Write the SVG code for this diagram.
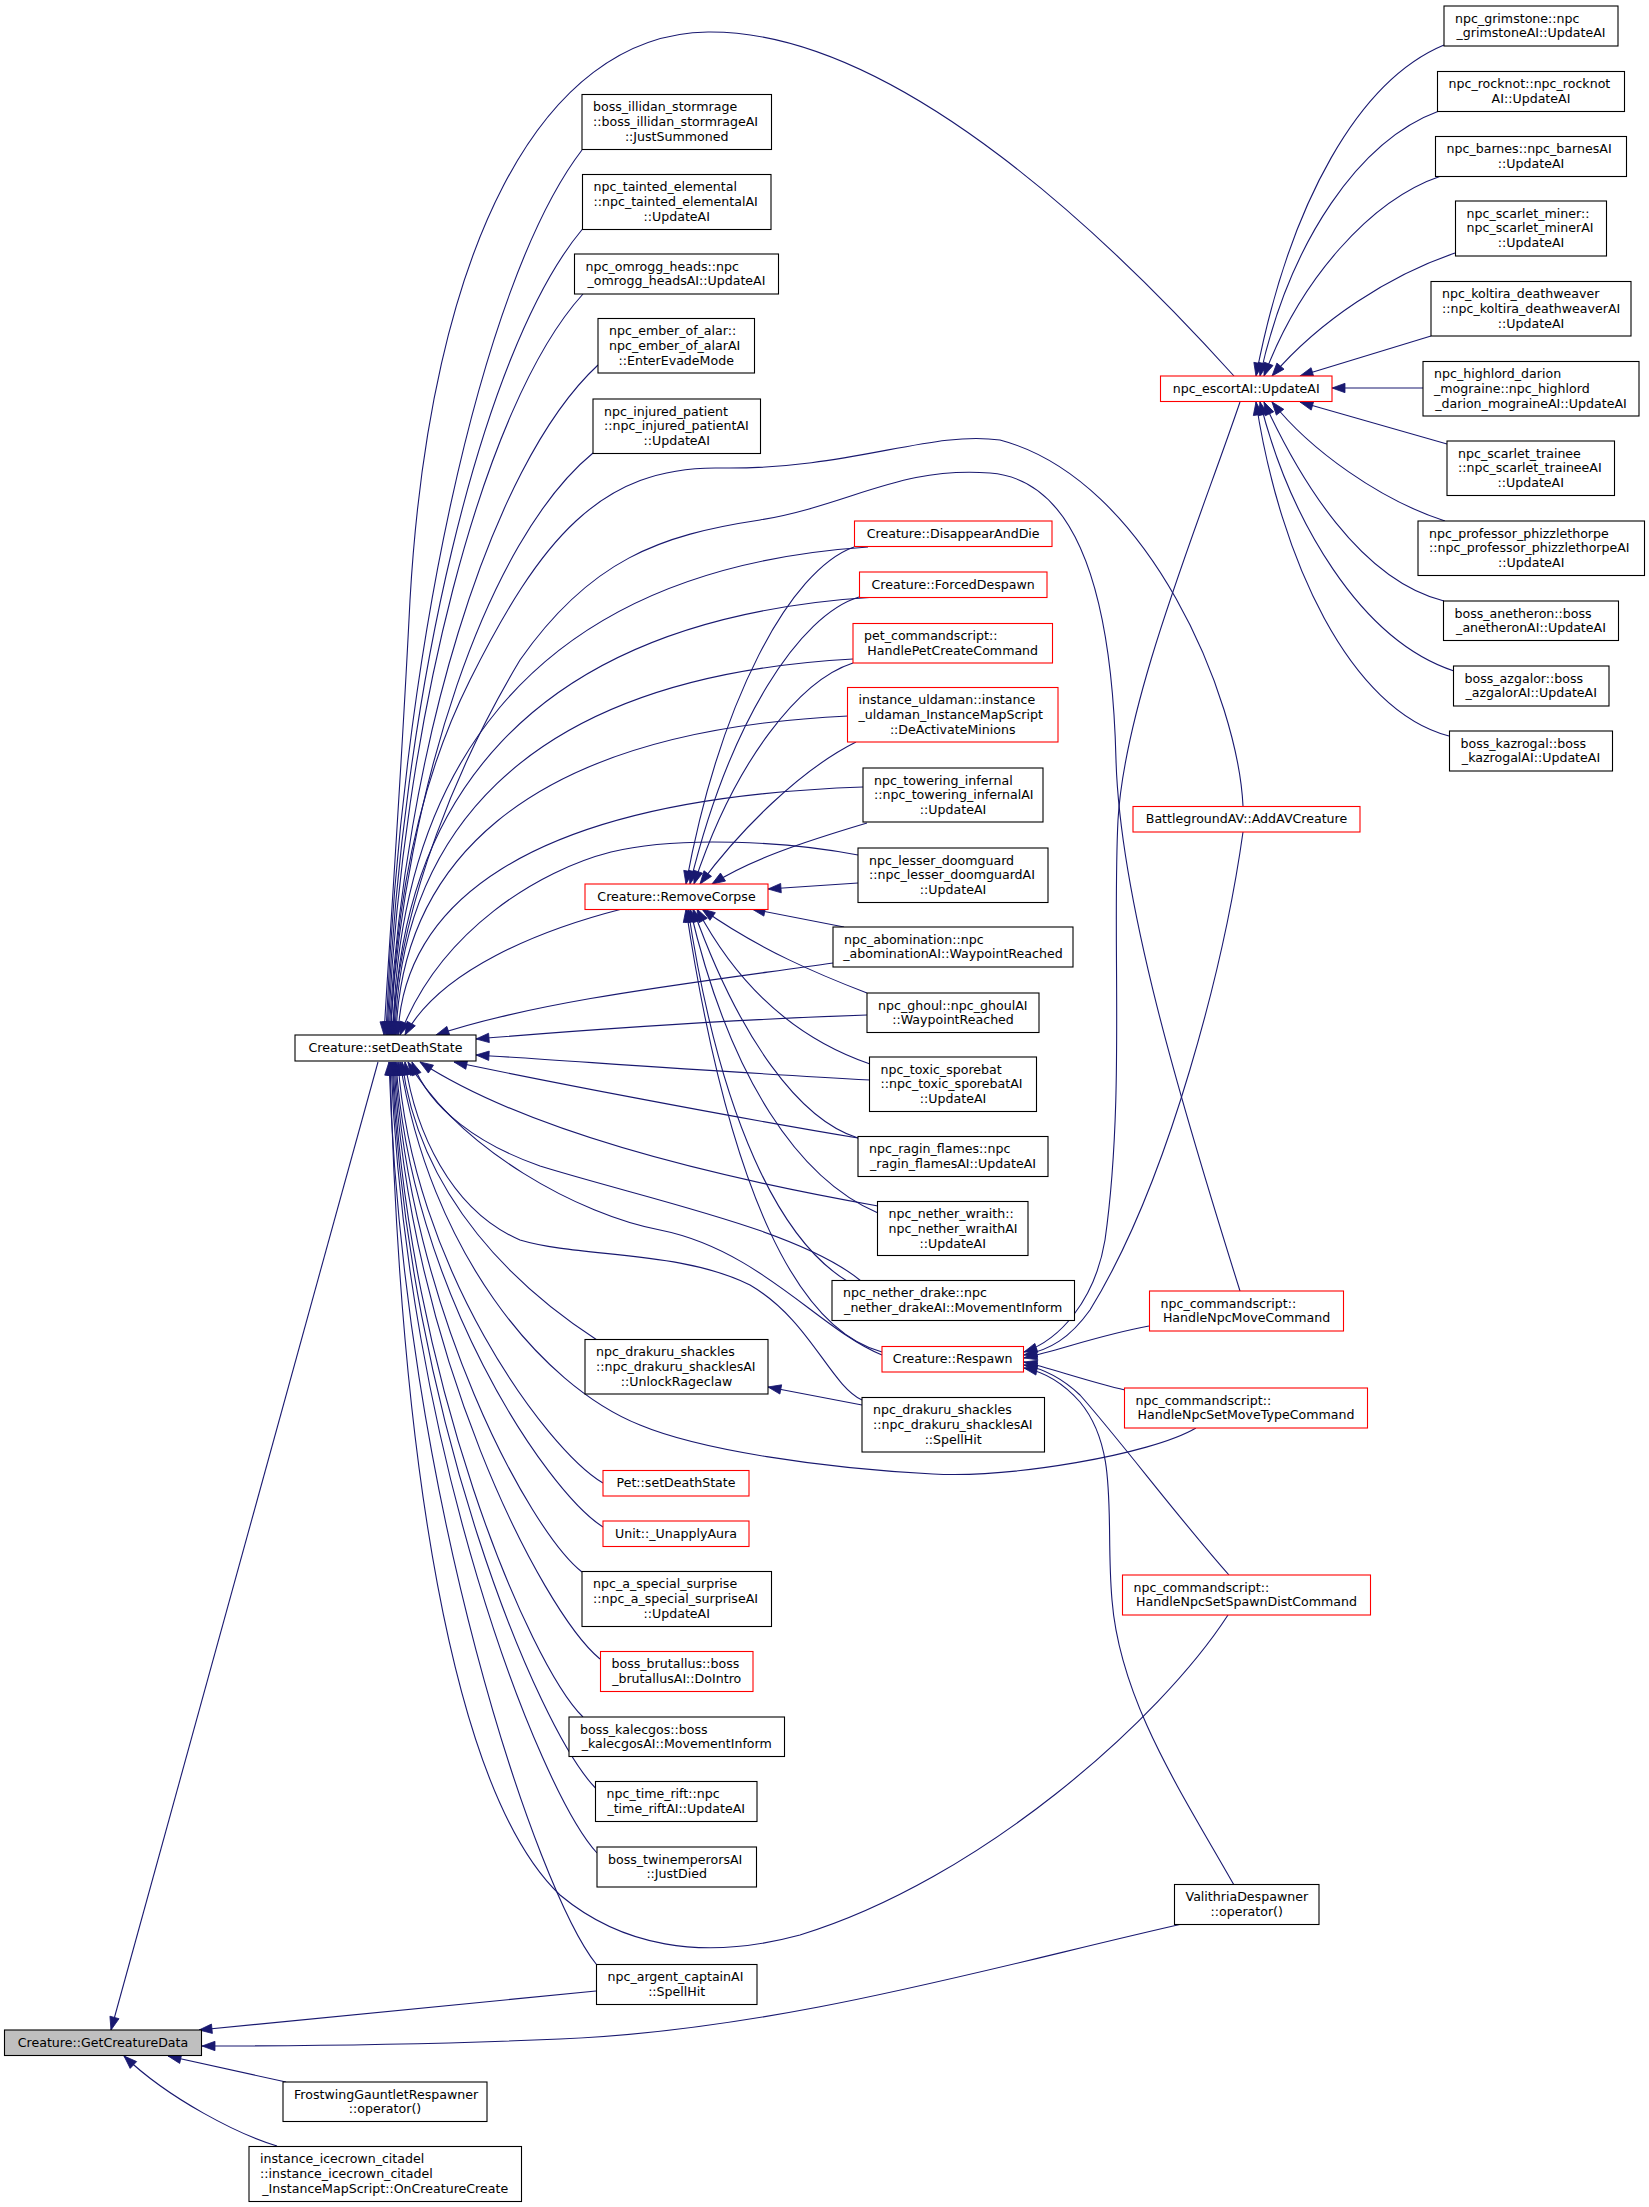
<svg xmlns="http://www.w3.org/2000/svg" width="1649" height="2207" viewBox="0 0 1649 2207">
<style>
.n{fill:#fff;stroke:#000;stroke-width:1.1}
.r{fill:#fff;stroke:#f00;stroke-width:1.1}
.g{fill:#bfbfbf;stroke:#000;stroke-width:1.1}
text{font-family:"DejaVu Sans",sans-serif;font-size:12.6px;fill:#000}
.c{text-anchor:middle}
.e{fill:none;stroke:#191970;stroke-width:1.1;marker-end:url(#a)}
</style>
<defs>
<marker id="a" viewBox="0 0 13 10" refX="13" refY="5" markerWidth="13" markerHeight="10" markerUnits="userSpaceOnUse" orient="auto" overflow="visible"><path d="M0,0.3 L13,5 L0,9.7 z" fill="#191970" stroke="#191970" stroke-width="0.8"/></marker>
</defs>
<rect width="1649" height="2207" fill="#fff"/>
<g id="edges">
<!-- to GetCreatureData -->
<path class="e" d="M378,1062 L111,2030"/>
<path class="e" d="M596,1991 L199,2030"/>
<path class="e" d="M1182,1924 C1000,1965 780,2030 560,2039 C420,2045 300,2046 202,2046"/>
<path class="e" d="M286,2082 L168,2056"/>
<path class="e" d="M277,2146 C240,2135 170,2100 124,2056"/>
<!-- to setDeathState (top) -->
<path class="e" d="M1234,376 C1120,250 900,30 708,32 C540,34 430,250 410,600 C400,800 388,960 384,1035"/>
<path class="e" d="M582,150 C480,283 400,663 386,1035"/>
<path class="e" d="M582.5,229 C481,350 401,696 387,1035"/>
<path class="e" d="M583,294 C482,405 402,724 388,1035"/>
<path class="e" d="M598,365 C489,466 404,754 389,1035"/>
<path class="e" d="M593,453 C487,540 404,791 390,1035"/>
<path class="e" d="M1243,806 C1238,700 1150,480 1000,440 C930,430 850,470 720,468 C600,466 540,540 470,680 C420,780 395,900 391,1035"/>
<path class="e" d="M1240,1291 C1180,1100 1120,900 1116,760 C1112,600 1080,480 990,473 C900,466 850,505 760,520 C660,535 590,560 520,660 C460,760 400,900 392,1035"/>
<path class="e" d="M868,547 C512,571 398,791 393,1035"/>
<path class="e" d="M876,597 C514,619 399,816 394,1035"/>
<path class="e" d="M853,659 C509,678 400,847 395,1035"/>
<path class="e" d="M848,716 C509,732 401,875 396,1035"/>
<path class="e" d="M863,787 C514,799 403,911 398,1035"/>
<path class="e" d="M858,855 C790,842 680,835 611,852 C540,870 440,930 400,1035"/>
<path class="e" d="M622,909 C540,930 440,970 405,1035"/>
<path class="e" d="M833,963 C700,982 540,1000 436,1035"/>
<!-- right side -->
<path class="e" d="M867,1015 C720,1020 560,1032 476,1039"/>
<path class="e" d="M870,1080 C720,1072 560,1060 476,1055"/>
<!-- bottom -->
<path class="e" d="M858,1138 C720,1115 540,1080 454,1062"/>
<path class="e" d="M878,1206 C760,1185 540,1140 420,1062"/>
<path class="e" d="M861,1281 C800,1230 650,1200 540,1166 C480,1145 430,1110 412,1062"/>
<path class="e" d="M882,1355 C820,1330 760,1250 660,1230 C580,1215 460,1150 408,1062"/>
<path class="e" d="M862,1400 C830,1385 810,1320 750,1285 C680,1250 580,1258 520,1240 C450,1210 415,1130 405,1062"/>
<path class="e" d="M597,1340 C520,1290 420,1200 402,1062"/>
<path class="e" d="M1196,1428 C1150,1455 1010,1478 933,1474 C820,1468 700,1450 640,1425 C540,1385 430,1250 400,1062"/>
<path class="e" d="M603,1483 C545.6,1449 412,1266 398,1062"/>
<path class="e" d="M603,1527 C545,1490 410,1287 396,1062"/>
<path class="e" d="M582,1572 C529.6,1531 409,1309 395,1062"/>
<path class="e" d="M600,1659 C542,1611 408,1351 394,1062"/>
<path class="e" d="M583,1717 C530,1665 407,1380 393,1062"/>
<path class="e" d="M595.5,1788 C538.5,1730 406,1414 392,1062"/>
<path class="e" d="M597,1853 C539,1790 405,1446 391,1062"/>
<path class="e" d="M1228,1615 C1160,1720 980,1880 800,1935 C700,1962 620,1945 560,1895 C450,1790 400,1450 390,1062"/>
<path class="e" d="M596.5,1964.5 C538,1892 403,1500 389,1062"/>
<!-- to RemoveCorpse -->
<path class="e" d="M854,547 C790,570 720,700 686,884"/>
<path class="e" d="M859,597 C800,615 730,720 690,884"/>
<path class="e" d="M853,663 C800,680 735,760 694,884"/>
<path class="e" d="M856,742 C800,770 740,830 700,884"/>
<path class="e" d="M867,823 C800,843 750,860 712,884"/>
<path class="e" d="M858,883 L768,889"/>
<path class="e" d="M844,927 L752,909"/>
<path class="e" d="M867,993 C820,975 760,950 702,909"/>
<path class="e" d="M870,1064 C800,1040 740,990 697,909"/>
<path class="e" d="M858,1138 C800,1120 740,1040 693,909"/>
<path class="e" d="M878,1213 C800,1180 730,1080 690,909"/>
<path class="e" d="M847,1281 C780,1240 720,1120 688,909"/>
<path class="e" d="M882,1352 C800,1330 730,1200 686,909"/>
<!-- to Respawn -->
<path class="e" d="M1240,402 C1200,520 1125,700 1118,820 C1112,940 1125,1100 1105,1240 C1095,1300 1060,1340 1024,1352"/>
<path class="e" d="M1243,832 C1225,960 1170,1180 1090,1310 C1070,1338 1050,1350 1024,1355"/>
<path class="e" d="M1149,1326 C1100,1335 1060,1350 1024,1358"/>
<path class="e" d="M1125,1390 C1090,1382 1050,1368 1024,1362"/>
<path class="e" d="M1229,1575 C1180,1520 1120,1440 1080,1395 C1062,1378 1045,1369 1024,1365"/>
<path class="e" d="M1234,1885 C1180,1790 1120,1700 1112,1600 C1105,1520 1120,1450 1080,1402 C1065,1385 1045,1372 1024,1368"/>
<!-- drakuru -->
<path class="e" d="M862,1405 L768,1387"/>
<!-- to npc_escortAI::UpdateAI -->
<path class="e" d="M1444,45 C1360,80 1290,200 1256,376"/>
<path class="e" d="M1439,111 C1360,140 1290,240 1260,376"/>
<path class="e" d="M1441,176 C1370,200 1300,280 1264,376"/>
<path class="e" d="M1455,253 C1390,275 1320,320 1272,376"/>
<path class="e" d="M1431,336 L1300,376"/>
<path class="e" d="M1423,388 L1332,388"/>
<path class="e" d="M1447,444 L1300,402"/>
<path class="e" d="M1445,521 C1380,500 1310,450 1272,402"/>
<path class="e" d="M1444,601 C1360,580 1300,480 1264,402"/>
<path class="e" d="M1454,671 C1360,640 1290,520 1260,402"/>
<path class="e" d="M1449,736 C1350,710 1280,560 1256,402"/>
</g>
<g id="n_getcreaturedata"><rect class="g" x="4.5" y="2030" width="197" height="25.5"/><text class="c" x="103" y="2046.5">Creature::GetCreatureData</text></g>
<g id="n_setdeathstate"><rect class="n" x="295" y="1035" width="181" height="26"/><text class="c" x="385.5" y="1051.5">Creature::setDeathState</text></g>
<g id="n_frostwing"><rect class="n" x="283" y="2082" width="204" height="39.5"/><text><tspan x="294" y="2098.5">FrostwingGauntletRespawner</tspan><tspan class="c" x="385" y="2113.3">::operator()</tspan></text></g>
<g id="n_icecrown"><rect class="n" x="249" y="2146.5" width="272.5" height="55"/><text><tspan x="260" y="2163">instance_icecrown_citadel</tspan><tspan x="260" y="2177.8">::instance_icecrown_citadel</tspan><tspan class="c" x="385.2" y="2192.6">_InstanceMapScript::OnCreatureCreate</tspan></text></g>
<g id="n_argent"><rect class="n" x="596.5" y="1964.5" width="160.5" height="40"/><text><tspan x="607.5" y="1981">npc_argent_captainAI</tspan><tspan class="c" x="676.7" y="1995.8">::SpellHit</tspan></text></g>
<g id="n_valithria"><rect class="n" x="1174.5" y="1884.5" width="144.5" height="40"/><text><tspan x="1185.5" y="1901">ValithriaDespawner</tspan><tspan class="c" x="1246.7" y="1915.8">::operator()</tspan></text></g>
<g id="n_illidan"><rect class="n" x="582" y="94.5" width="189.5" height="55"/><text><tspan x="593" y="111">boss_illidan_stormrage</tspan><tspan x="593" y="125.8">::boss_illidan_stormrageAI</tspan><tspan class="c" x="676.7" y="140.6">::JustSummoned</tspan></text></g>
<g id="n_tainted"><rect class="n" x="582.5" y="174.5" width="188.5" height="55"/><text><tspan x="593.5" y="191">npc_tainted_elemental</tspan><tspan x="593.5" y="205.8">::npc_tainted_elementalAI</tspan><tspan class="c" x="676.7" y="220.6">::UpdateAI</tspan></text></g>
<g id="n_omrogg"><rect class="n" x="574.5" y="254" width="204" height="40"/><text><tspan x="585.5" y="270.5">npc_omrogg_heads::npc</tspan><tspan class="c" x="676.5" y="285.3">_omrogg_headsAI::UpdateAI</tspan></text></g>
<g id="n_ember"><rect class="n" x="598" y="318.5" width="156.5" height="54.5"/><text><tspan x="609" y="335">npc_ember_of_alar::</tspan><tspan x="609" y="349.8">npc_ember_of_alarAI</tspan><tspan class="c" x="676.2" y="364.6">::EnterEvadeMode</tspan></text></g>
<g id="n_injured"><rect class="n" x="593" y="399" width="167.5" height="54.5"/><text><tspan x="604" y="415.5">npc_injured_patient</tspan><tspan x="604" y="430.3">::npc_injured_patientAI</tspan><tspan class="c" x="676.7" y="445.1">::UpdateAI</tspan></text></g>
<g id="n_disappear"><rect class="r" x="854.5" y="521" width="197.5" height="25.5"/><text class="c" x="953.2" y="537.5">Creature::DisappearAndDie</text></g>
<g id="n_forceddespawn"><rect class="r" x="859.5" y="572" width="187.5" height="25.5"/><text class="c" x="953.2" y="588.5">Creature::ForcedDespawn</text></g>
<g id="n_petcmd"><rect class="r" x="853" y="623.5" width="199.5" height="39.5"/><text><tspan x="864" y="640">pet_commandscript::</tspan><tspan class="c" x="952.7" y="654.8">HandlePetCreateCommand</tspan></text></g>
<g id="n_uldaman"><rect class="r" x="847.5" y="687.5" width="210.5" height="54.5"/><text><tspan x="858.5" y="704">instance_uldaman::instance</tspan><tspan x="858.5" y="718.8">_uldaman_InstanceMapScript</tspan><tspan class="c" x="952.7" y="733.6">::DeActivateMinions</tspan></text></g>
<g id="n_towering"><rect class="n" x="863" y="768" width="180" height="54"/><text><tspan x="874" y="784.5">npc_towering_infernal</tspan><tspan x="874" y="799.3">::npc_towering_infernalAI</tspan><tspan class="c" x="953" y="814.1">::UpdateAI</tspan></text></g>
<g id="n_removecorpse"><rect class="r" x="585" y="884" width="183" height="25.5"/><text class="c" x="676.5" y="900.5">Creature::RemoveCorpse</text></g>
<g id="n_doomguard"><rect class="n" x="858" y="848" width="190" height="54.5"/><text><tspan x="869" y="864.5">npc_lesser_doomguard</tspan><tspan x="869" y="879.3">::npc_lesser_doomguardAI</tspan><tspan class="c" x="953" y="894.1">::UpdateAI</tspan></text></g>
<g id="n_abomination"><rect class="n" x="833" y="927" width="240" height="40"/><text><tspan x="844" y="943.5">npc_abomination::npc</tspan><tspan class="c" x="953" y="958.3">_abominationAI::WaypointReached</tspan></text></g>
<g id="n_ghoul"><rect class="n" x="867" y="993" width="172" height="39.5"/><text><tspan x="878" y="1009.5">npc_ghoul::npc_ghoulAI</tspan><tspan class="c" x="953" y="1024.3">::WaypointReached</tspan></text></g>
<g id="n_toxic"><rect class="n" x="869.5" y="1057" width="167" height="54.5"/><text><tspan x="880.5" y="1073.5">npc_toxic_sporebat</tspan><tspan x="880.5" y="1088.3">::npc_toxic_sporebatAI</tspan><tspan class="c" x="953" y="1103.1">::UpdateAI</tspan></text></g>
<g id="n_ragin"><rect class="n" x="858" y="1136.5" width="190" height="40"/><text><tspan x="869" y="1153">npc_ragin_flames::npc</tspan><tspan class="c" x="953" y="1167.8">_ragin_flamesAI::UpdateAI</tspan></text></g>
<g id="n_wraith"><rect class="n" x="877.5" y="1201.5" width="150.5" height="54"/><text><tspan x="888.5" y="1218">npc_nether_wraith::</tspan><tspan x="888.5" y="1232.8">npc_nether_wraithAI</tspan><tspan class="c" x="952.7" y="1247.6">::UpdateAI</tspan></text></g>
<g id="n_drake"><rect class="n" x="832" y="1280.5" width="242.5" height="40"/><text><tspan x="843" y="1297">npc_nether_drake::npc</tspan><tspan class="c" x="953.2" y="1311.8">_nether_drakeAI::MovementInform</tspan></text></g>
<g id="n_respawn"><rect class="r" x="882" y="1346.5" width="141.5" height="25.5"/><text class="c" x="952.7" y="1363">Creature::Respawn</text></g>
<g id="n_unlock"><rect class="n" x="585" y="1339.5" width="183" height="54.5"/><text><tspan x="596" y="1356">npc_drakuru_shackles</tspan><tspan x="596" y="1370.8">::npc_drakuru_shacklesAI</tspan><tspan class="c" x="676.5" y="1385.6">::UnlockRageclaw</tspan></text></g>
<g id="n_drakuruspell"><rect class="n" x="862" y="1397.5" width="182.5" height="54.5"/><text><tspan x="873" y="1414">npc_drakuru_shackles</tspan><tspan x="873" y="1428.8">::npc_drakuru_shacklesAI</tspan><tspan class="c" x="953.2" y="1443.6">::SpellHit</tspan></text></g>
<g id="n_petdeath"><rect class="r" x="603" y="1470.5" width="146" height="25.5"/><text class="c" x="676" y="1487">Pet::setDeathState</text></g>
<g id="n_unapply"><rect class="r" x="603" y="1521" width="146" height="25.5"/><text class="c" x="676" y="1537.5">Unit::_UnapplyAura</text></g>
<g id="n_special"><rect class="n" x="582" y="1571.5" width="189.5" height="55"/><text><tspan x="593" y="1588">npc_a_special_surprise</tspan><tspan x="593" y="1602.8">::npc_a_special_surpriseAI</tspan><tspan class="c" x="676.7" y="1617.6">::UpdateAI</tspan></text></g>
<g id="n_brutallus"><rect class="r" x="600.5" y="1651.5" width="152.5" height="40"/><text><tspan x="611.5" y="1668">boss_brutallus::boss</tspan><tspan class="c" x="676.7" y="1682.8">_brutallusAI::DoIntro</tspan></text></g>
<g id="n_kalecgos"><rect class="n" x="569" y="1717" width="215.5" height="39.5"/><text><tspan x="580" y="1733.5">boss_kalecgos::boss</tspan><tspan class="c" x="676.7" y="1748.3">_kalecgosAI::MovementInform</tspan></text></g>
<g id="n_timerift"><rect class="n" x="595.5" y="1781.5" width="161.5" height="40"/><text><tspan x="606.5" y="1798">npc_time_rift::npc</tspan><tspan class="c" x="676.2" y="1812.8">_time_riftAI::UpdateAI</tspan></text></g>
<g id="n_twin"><rect class="n" x="597" y="1847" width="159.5" height="40"/><text><tspan x="608" y="1863.5">boss_twinemperorsAI</tspan><tspan class="c" x="676.7" y="1878.3">::JustDied</tspan></text></g>
<g id="n_escort"><rect class="r" x="1160.5" y="376" width="171.5" height="25.5"/><text class="c" x="1246.2" y="392.5">npc_escortAI::UpdateAI</text></g>
<g id="n_addav"><rect class="r" x="1133" y="806.5" width="227" height="25.5"/><text class="c" x="1246.5" y="823">BattlegroundAV::AddAVCreature</text></g>
<g id="n_movecmd"><rect class="r" x="1149.5" y="1291" width="194" height="40"/><text><tspan x="1160.5" y="1307.5">npc_commandscript::</tspan><tspan class="c" x="1246.5" y="1322.3">HandleNpcMoveCommand</tspan></text></g>
<g id="n_movetype"><rect class="r" x="1124.5" y="1388" width="243" height="40"/><text><tspan x="1135.5" y="1404.5">npc_commandscript::</tspan><tspan class="c" x="1246" y="1419.3">HandleNpcSetMoveTypeCommand</tspan></text></g>
<g id="n_spawndist"><rect class="r" x="1122.5" y="1575" width="248" height="40"/><text><tspan x="1133.5" y="1591.5">npc_commandscript::</tspan><tspan class="c" x="1246.5" y="1606.3">HandleNpcSetSpawnDistCommand</tspan></text></g>
<g id="n_grimstone"><rect class="n" x="1444" y="6" width="174" height="40"/><text><tspan x="1455" y="22.5">npc_grimstone::npc</tspan><tspan class="c" x="1531" y="37.3">_grimstoneAI::UpdateAI</tspan></text></g>
<g id="n_rocknot"><rect class="n" x="1437.5" y="71.5" width="187" height="40"/><text><tspan x="1448.5" y="88">npc_rocknot::npc_rocknot</tspan><tspan class="c" x="1531" y="102.8">AI::UpdateAI</tspan></text></g>
<g id="n_barnes"><rect class="n" x="1435.5" y="136.5" width="191" height="40"/><text><tspan x="1446.5" y="153">npc_barnes::npc_barnesAI</tspan><tspan class="c" x="1531" y="167.8">::UpdateAI</tspan></text></g>
<g id="n_miner"><rect class="n" x="1455.5" y="201" width="151" height="55"/><text><tspan x="1466.5" y="217.5">npc_scarlet_miner::</tspan><tspan x="1466.5" y="232.3">npc_scarlet_minerAI</tspan><tspan class="c" x="1531" y="247.1">::UpdateAI</tspan></text></g>
<g id="n_koltira"><rect class="n" x="1431" y="281.5" width="200" height="54.5"/><text><tspan x="1442" y="298">npc_koltira_deathweaver</tspan><tspan x="1442" y="312.8">::npc_koltira_deathweaverAI</tspan><tspan class="c" x="1531" y="327.6">::UpdateAI</tspan></text></g>
<g id="n_highlord"><rect class="n" x="1423" y="361.5" width="216" height="54.5"/><text><tspan x="1434" y="378">npc_highlord_darion</tspan><tspan x="1434" y="392.8">_mograine::npc_highlord</tspan><tspan class="c" x="1531" y="407.6">_darion_mograineAI::UpdateAI</tspan></text></g>
<g id="n_trainee"><rect class="n" x="1447" y="441" width="167.5" height="54.5"/><text><tspan x="1458" y="457.5">npc_scarlet_trainee</tspan><tspan x="1458" y="472.3">::npc_scarlet_traineeAI</tspan><tspan class="c" x="1530.7" y="487.1">::UpdateAI</tspan></text></g>
<g id="n_professor"><rect class="n" x="1418" y="521" width="226.5" height="54.5"/><text><tspan x="1429" y="537.5">npc_professor_phizzlethorpe</tspan><tspan x="1429" y="552.3">::npc_professor_phizzlethorpeAI</tspan><tspan class="c" x="1531.2" y="567.1">::UpdateAI</tspan></text></g>
<g id="n_anetheron"><rect class="n" x="1443.5" y="601" width="175" height="39.5"/><text><tspan x="1454.5" y="617.5">boss_anetheron::boss</tspan><tspan class="c" x="1531" y="632.3">_anetheronAI::UpdateAI</tspan></text></g>
<g id="n_azgalor"><rect class="n" x="1453.5" y="666" width="155.5" height="40"/><text><tspan x="1464.5" y="682.5">boss_azgalor::boss</tspan><tspan class="c" x="1531.2" y="697.3">_azgalorAI::UpdateAI</tspan></text></g>
<g id="n_kazrogal"><rect class="n" x="1449.5" y="731" width="163" height="40"/><text><tspan x="1460.5" y="747.5">boss_kazrogal::boss</tspan><tspan class="c" x="1531" y="762.3">_kazrogalAI::UpdateAI</tspan></text></g>
</svg>
